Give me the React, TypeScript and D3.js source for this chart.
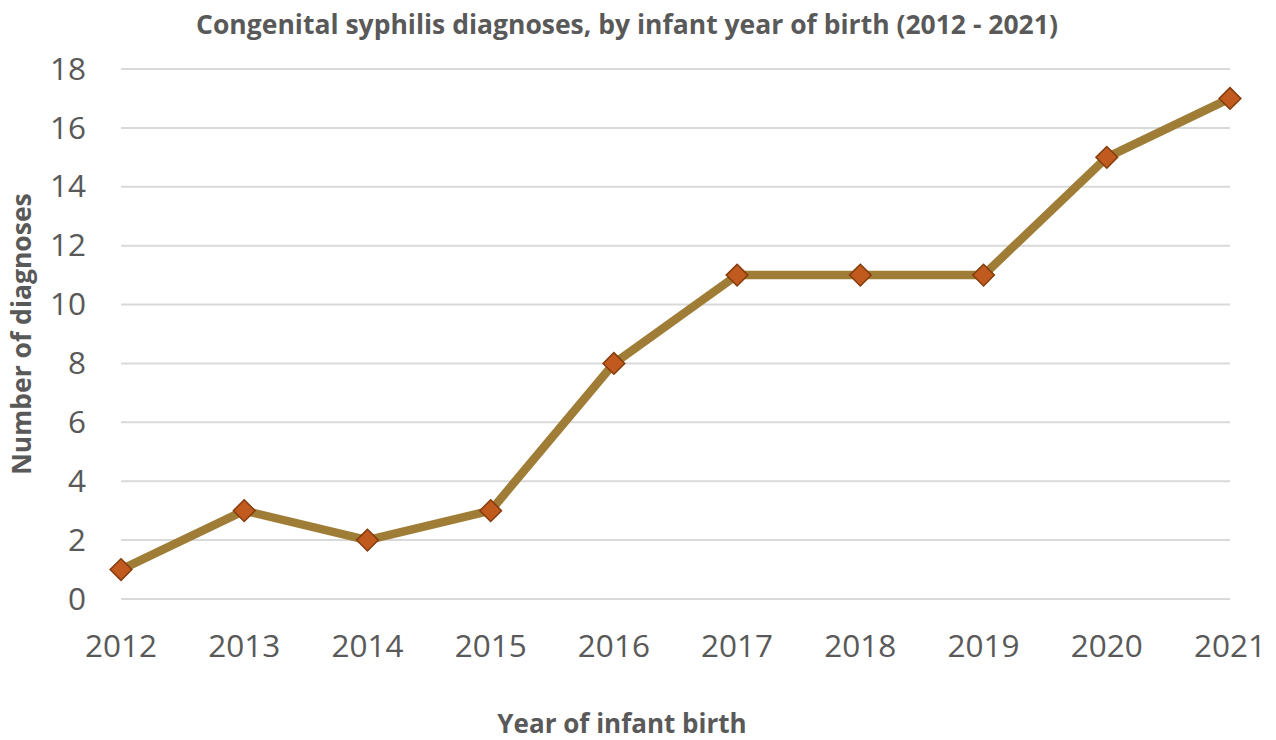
import React, { useEffect, useRef } from "react";
import * as d3 from "d3";

const years = ["2012", "2013", "2014", "2015", "2016", "2017", "2018", "2019", "2020", "2021"];
const diagnoses = [1, 3, 2, 3, 8, 11, 11, 11, 15, 17];
const yTicks = [0, 2, 4, 6, 8, 10, 12, 14, 16, 18];

const App: React.FC = () => {
  const svgRef = useRef<SVGSVGElement | null>(null);

  useEffect(() => {
    const width = 1276;
    const height = 740;
    const margin = { top: 69, right: 46, bottom: 141, left: 121 };
    const font = "'Open Sans', Lato, sans-serif";
    const textColor = "#595959";

    const svg = d3.select(svgRef.current);
    svg.selectAll("*").remove();
    svg.attr("width", width).attr("height", height);

    const x = d3
      .scalePoint<string>()
      .domain(years)
      .range([margin.left, width - margin.right]);

    const y = d3
      .scaleLinear()
      .domain([0, 18])
      .range([height - margin.bottom, margin.top]);

    // Gridlines
    svg
      .append("g")
      .selectAll("line")
      .data(yTicks)
      .join("line")
      .attr("x1", margin.left)
      .attr("x2", width - margin.right)
      .attr("y1", d => y(d))
      .attr("y2", d => y(d))
      .attr("stroke", "#d9d9d9")
      .attr("stroke-width", 2);

    // Y labels
    svg
      .append("g")
      .selectAll("text")
      .data(yTicks)
      .join("text")
      .attr("x", 86)
      .attr("y", d => y(d))
      .attr("dy", "0.34em")
      .attr("text-anchor", "end")
      .attr("font-family", font)
      .attr("font-size", 31.5)
      .attr("fill", textColor)
      .text(d => d);

    // X labels
    svg
      .append("g")
      .selectAll("text")
      .data(years)
      .join("text")
      .attr("x", d => x(d)!)
      .attr("y", 657)
      .attr("text-anchor", "middle")
      .attr("font-family", font)
      .attr("font-size", 31.5)
      .attr("fill", textColor)
      .text(d => d);

    const points = years.map((yr, i) => ({ yr, v: diagnoses[i] }));

    // Line
    const line = d3
      .line<{ yr: string; v: number }>()
      .x(d => x(d.yr)!)
      .y(d => y(d.v));

    svg
      .append("path")
      .datum(points)
      .attr("d", line)
      .attr("fill", "none")
      .attr("stroke", "#a07d37")
      .attr("stroke-width", 8.5)
      .attr("stroke-linejoin", "round");

    // Markers
    const diamond = d3.symbol().type(d3.symbolDiamond2).size(300);
    svg
      .append("g")
      .selectAll("path")
      .data(points)
      .join("path")
      .attr("d", diamond)
      .attr("transform", d => `translate(${x(d.yr)},${y(d.v)})`)
      .attr("fill", "#c05a1f")
      .attr("stroke", "#843c0c")
      .attr("stroke-width", 1.5);

    // Title
    svg
      .append("text")
      .attr("x", 627)
      .attr("y", 34)
      .attr("text-anchor", "middle")
      .attr("font-family", font)
      .attr("font-weight", "bold")
      .attr("font-size", 26.5)
      .attr("fill", textColor)
      .text("Congenital syphilis diagnoses, by infant year of birth (2012 - 2021)");

    // Axis titles
    svg
      .append("text")
      .attr("x", 622)
      .attr("y", 733)
      .attr("text-anchor", "middle")
      .attr("font-family", font)
      .attr("font-weight", "bold")
      .attr("font-size", 26)
      .attr("fill", textColor)
      .text("Year of infant birth");

    svg
      .append("text")
      .attr("transform", "translate(31,334) rotate(-90)")
      .attr("text-anchor", "middle")
      .attr("font-family", font)
      .attr("font-weight", "bold")
      .attr("font-size", 26.5)
      .attr("fill", textColor)
      .text("Number of diagnoses");
  }, []);

  return (
    <svg
      ref={svgRef}
      style={{ position: "absolute", left: 0, top: 0, display: "block", background: "#fff" }}
    ></svg>
  );
};

export default App;
